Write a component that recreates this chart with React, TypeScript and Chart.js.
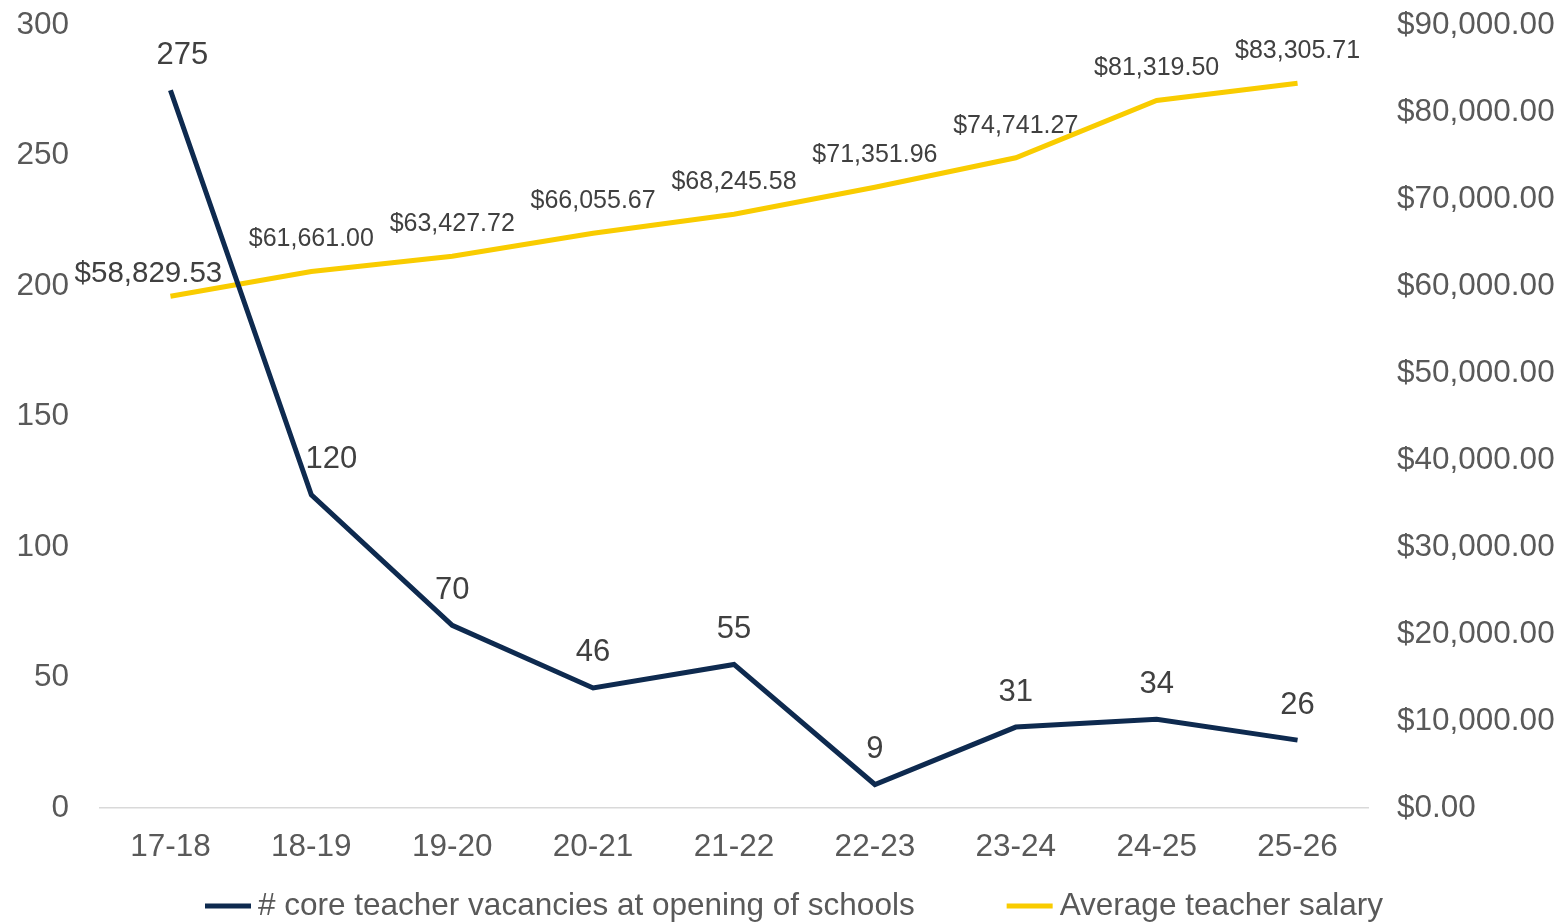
import React, { useEffect, useRef } from "react";
import { Chart, registerables } from "chart.js";

Chart.register(...registerables);

const categories = ["17-18", "18-19", "19-20", "20-21", "21-22", "22-23", "23-24", "24-25", "25-26"];
const vacancies = [275, 120, 70, 46, 55, 9, 31, 34, 26];
const salaries = [58829.53, 61661.0, 63427.72, 66055.67, 68245.58, 71351.96, 74741.27, 81319.5, 83305.71];
const vacancyLabel = "# core teacher vacancies at opening of schools";
const salaryLabel = "Average teacher salary";

const NAVY = "#0E2A4F";
const YELLOW = "#F9CC00";
const FONT = "'Liberation Sans', Arial, sans-serif";
const TICK = "#595959";

const money = (v: number) =>
  "$" + v.toLocaleString("en-US", { minimumFractionDigits: 2, maximumFractionDigits: 2 });

const dataLabelPlugin = {
  id: "dataLabels",
  afterDatasetsDraw(chart: any) {
    const ctx = chart.ctx;
    ctx.save();
    ctx.textAlign = "center";
    ctx.textBaseline = "middle";
    ctx.fillStyle = "#404040";
    const m0 = chart.getDatasetMeta(0);
    m0.data.forEach((pt: any, i: number) => {
      let dx = 0;
      if (i === 0) dx = 12;
      if (i === 1) dx = 20;
      ctx.font = `31px ${FONT}`;
      ctx.fillText(String(vacancies[i]), pt.x + dx, pt.y - 35);
    });
    const m1 = chart.getDatasetMeta(1);
    m1.data.forEach((pt: any, i: number) => {
      let dx = 0;
      let dy = -32;
      let size = 25;
      if (i === 0) {
        dx = -22;
        dy = -22;
        size = 29.5;
      }
      ctx.font = `${size}px ${FONT}`;
      ctx.fillText(money(salaries[i]), pt.x + dx, pt.y + dy);
    });
    ctx.restore();
  },
};

const legendPlugin = {
  id: "customLegend",
  afterDraw(chart: any) {
    const ctx = chart.ctx;
    const items = chart.data.datasets.map((d: any) => ({ text: d.label, color: d.borderColor }));
    ctx.save();
    ctx.font = `31.5px ${FONT}`;
    ctx.textBaseline = "middle";
    ctx.textAlign = "left";
    const boxW = 46;
    const boxGap = 7;
    const itemGap = 92;
    const widths = items.map((it: any) => boxW + boxGap + ctx.measureText(it.text).width);
    const total = widths.reduce((a: number, b: number) => a + b, 0) + itemGap * (items.length - 1);
    const center = 794;
    let x = center - total / 2;
    const y = 906;
    items.forEach((it: any, i: number) => {
      ctx.fillStyle = it.color;
      ctx.fillRect(x, y - 2.5, boxW, 5);
      ctx.fillStyle = TICK;
      ctx.fillText(it.text, x + boxW + boxGap, y);
      x += widths[i] + itemGap;
    });
    ctx.restore();
  },
};

const noPad = (s: any) => {
  s.paddingTop = 0;
  s.paddingBottom = 0;
};

export default function App() {
  const ref = useRef<HTMLCanvasElement | null>(null);
  useEffect(() => {
    document.body.style.margin = "0";
    if (!ref.current) return;
    const chart = new Chart(ref.current, {
      type: "line",
      data: {
        labels: categories,
        datasets: [
          {
            label: vacancyLabel,
            data: vacancies,
            borderColor: NAVY,
            backgroundColor: NAVY,
            borderWidth: 5,
            pointRadius: 0,
            tension: 0,
            yAxisID: "y",
          },
          {
            label: salaryLabel,
            data: salaries,
            borderColor: YELLOW,
            backgroundColor: YELLOW,
            borderWidth: 5,
            pointRadius: 0,
            tension: 0,
            yAxisID: "y2",
          },
        ],
      },
      options: {
        animation: false,
        responsive: false,
        layout: { padding: { top: 25, left: 0, right: 0, bottom: 0 } },
        plugins: {
          tooltip: { enabled: false },
          legend: { display: false },
        },
        scales: {
          x: {
            offset: true,
            grid: { display: false },
            border: { display: true, color: "#D9D9D9", width: 1.5 },
            ticks: {
              font: { family: FONT, size: 31.5 },
              color: TICK,
              padding: 12,
              maxRotation: 0,
            },
            afterFit: (s: any) => {
              s.height = 115;
              s.paddingLeft = 0;
              s.paddingRight = 0;
            },
          },
          y: {
            position: "left",
            min: 0,
            max: 300,
            grid: { display: false },
            border: { display: false },
            ticks: {
              stepSize: 50,
              font: { family: FONT, size: 31.5 },
              color: TICK,
              padding: 23,
            },
            afterFit: (s: any) => {
              s.width = 100;
              noPad(s);
            },
          },
          y2: {
            position: "right",
            min: 0,
            max: 90000,
            grid: { display: false },
            border: { display: false },
            ticks: {
              stepSize: 10000,
              font: { family: FONT, size: 31.5 },
              color: TICK,
              padding: 21,
              callback: (v: any) => money(Number(v)),
            },
            afterFit: (s: any) => {
              s.width = 196;
              noPad(s);
            },
          },
        },
      },
      plugins: [dataLabelPlugin, legendPlugin],
    });
    return () => chart.destroy();
  }, []);
  return <canvas ref={ref} width={1564} height={923} style={{ display: "block" }} />;
}
